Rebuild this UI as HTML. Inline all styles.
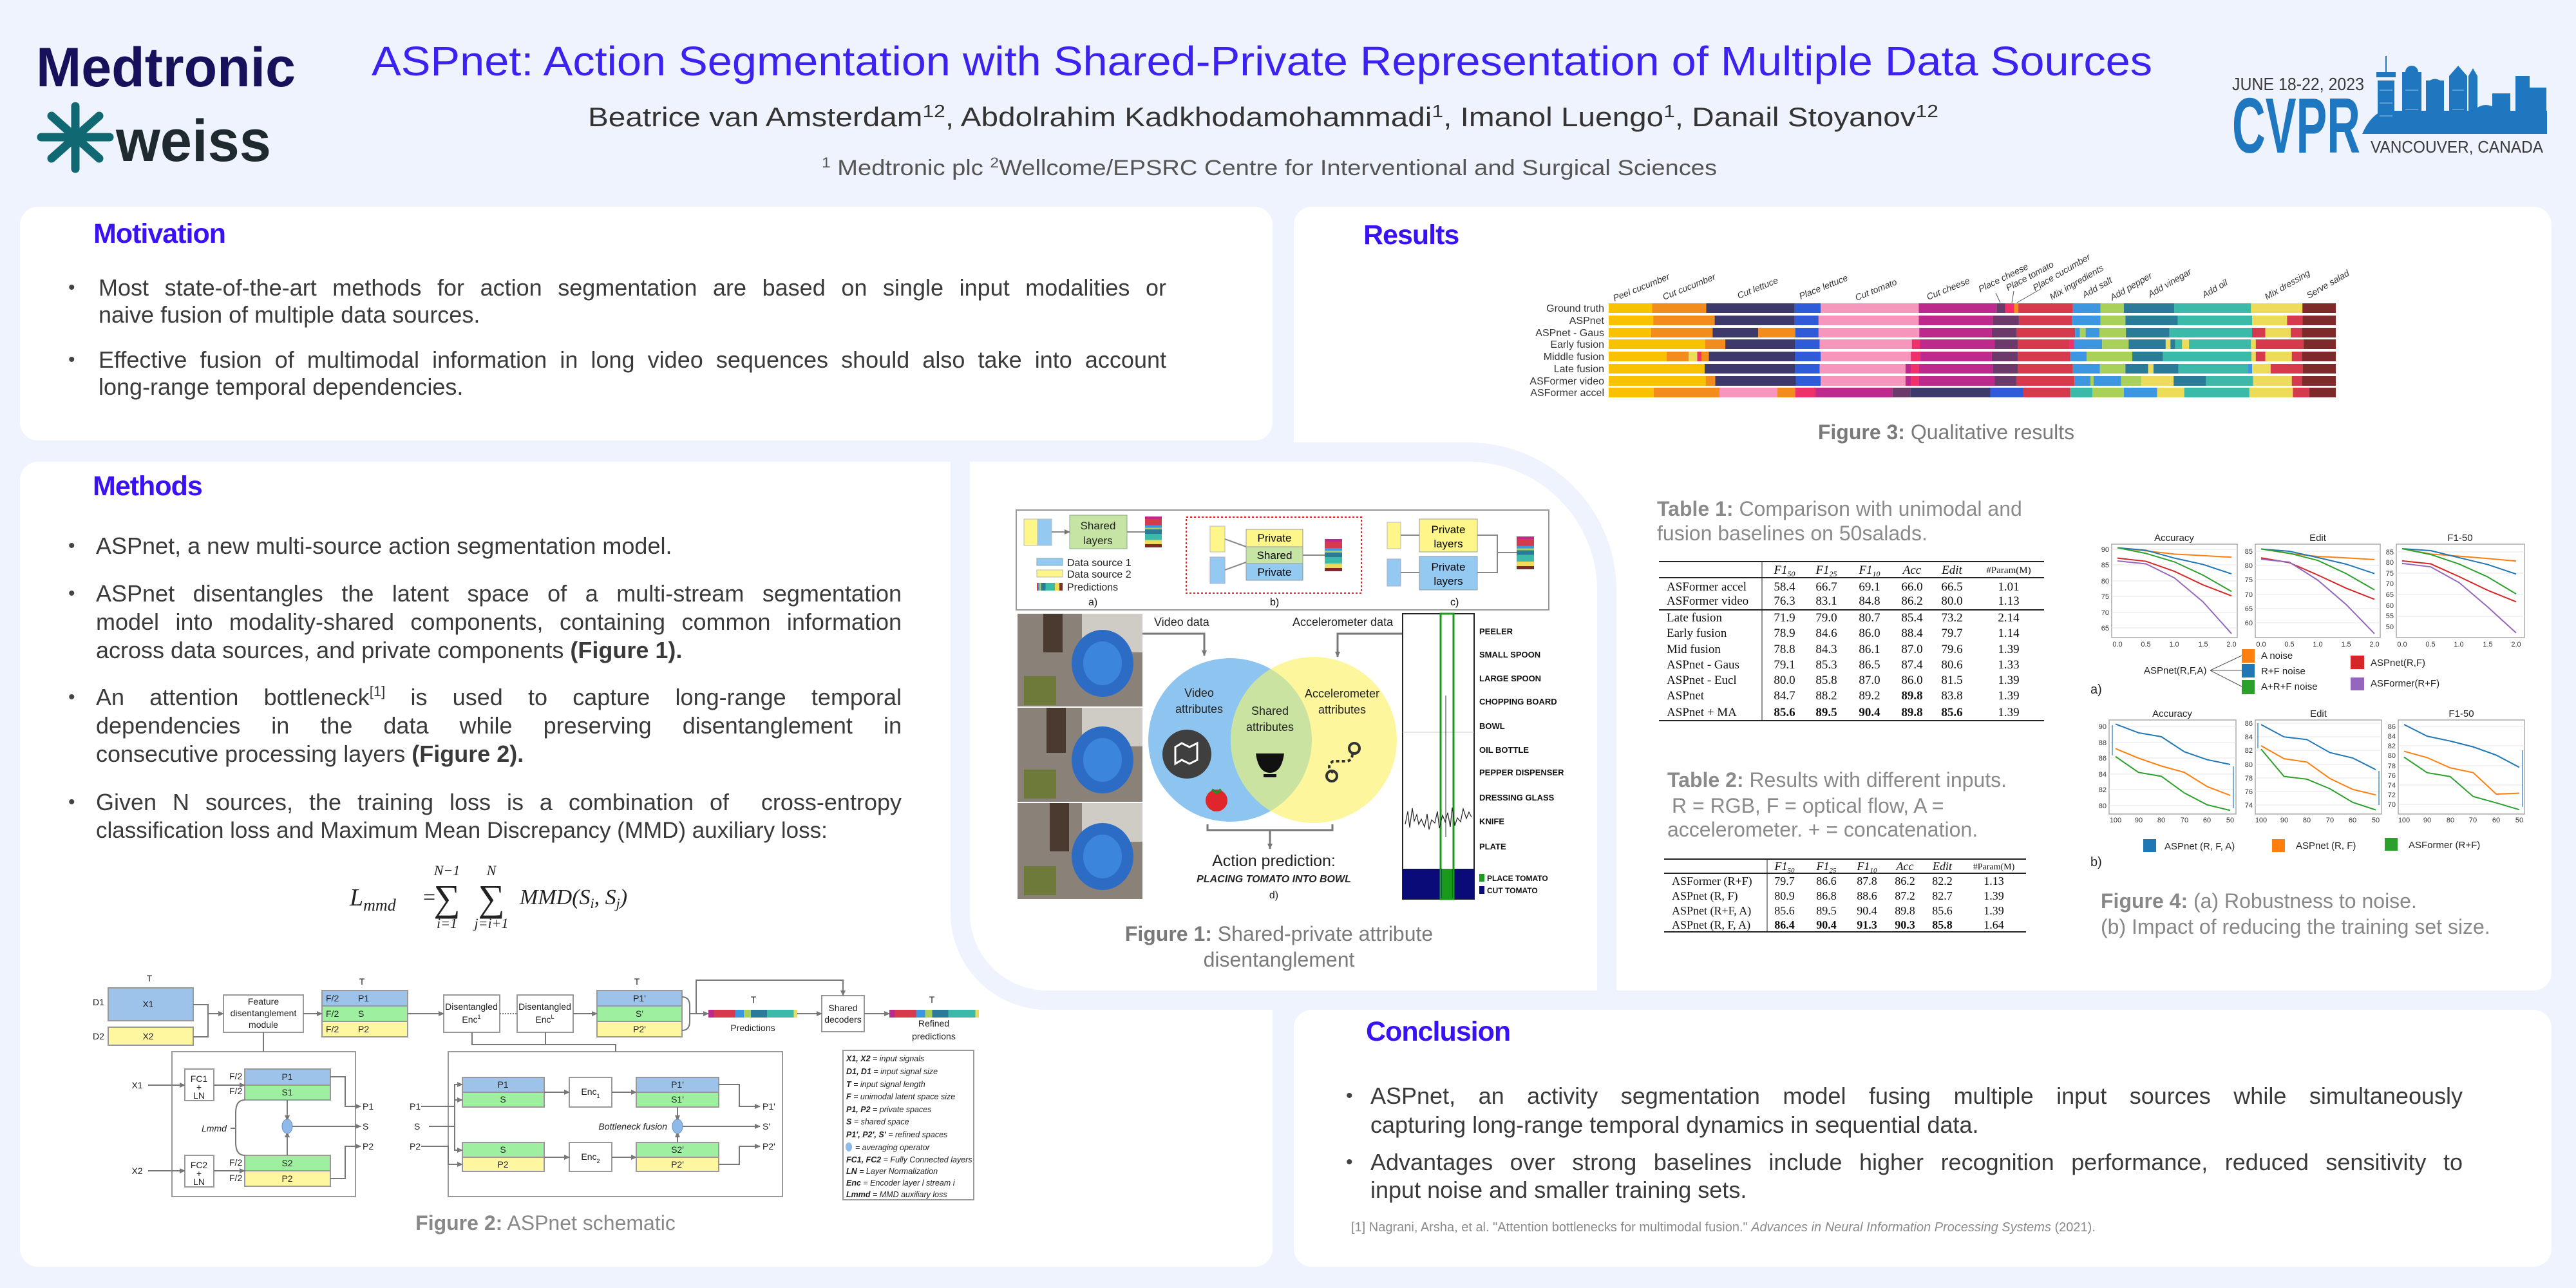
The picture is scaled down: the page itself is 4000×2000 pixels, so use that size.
<!DOCTYPE html>
<html><head><meta charset="utf-8">
<style>
*{margin:0;padding:0;box-sizing:border-box}
body{width:4000px;height:2000px;background:#eef3fd;position:relative;overflow:hidden;font-family:"Liberation Sans",sans-serif;color:#3a3a3a}
.panel{position:absolute;background:#fff;border-radius:28px}
.h{position:absolute;font-weight:bold;font-size:43px;color:#3a10f5;letter-spacing:-1px}
.ln{position:absolute;font-size:36px;line-height:44px;height:44px;white-space:nowrap;color:#3a3a3a}
.j{text-align:justify;text-align-last:justify;white-space:normal}
.bul{position:absolute;font-size:30px;line-height:44px;color:#444}
.fig3row{display:flex;height:15px;margin-bottom:3.75px}
.fig3row i{display:block;height:15px}
.Y{background:#f8c200}.O{background:#f28c1c}.N{background:#3d3a6b}.B{background:#2f5bd8}.P{background:#f796bd}.M{background:#bd2a8c}.V{background:#6b3a6a}.R{background:#d63a4d}.L{background:#3d96e0}.G{background:#a9d15a}.T{background:#2a7b98}.C{background:#3bb9a9}.E{background:#ecdc5a}.D{background:#7f2a2a}.K{background:#f0306b}
svg text{font-family:"Liberation Sans",sans-serif}
sup{font-size:22px;line-height:0;vertical-align:0;position:relative;top:-14px}
</style></head><body>

<div class="panel" style="left:31px;top:321px;width:1945px;height:363px"></div>
<div class="panel" style="left:2009px;top:321px;width:1953px;height:1217px"></div>
<div class="panel" style="left:31px;top:717px;width:1945px;height:1250px"></div>
<div class="panel" style="left:2009px;top:1568px;width:1953px;height:399px"></div>
<div style="position:absolute;left:1476px;top:687px;width:1034px;height:881px;background:#fff;border:30px solid #eef3fd;border-radius:0 230px 0 150px"></div>

<div class="h" style="left:145px;top:339px">Motivation</div>
<div class="h" style="left:2117px;top:341px">Results</div>
<div class="h" style="left:144px;top:731px">Methods</div>
<div class="h" style="left:2121px;top:1578px">Conclusion</div>

<div class="bul" style="left:106px;top:425px">•</div>
<div class="ln j" style="left:153px;top:425px;width:1658px">Most state-of-the-art methods for action segmentation are based on single input modalities or</div>
<div class="ln" style="left:153px;top:467px">naive fusion of multiple data sources.</div>
<div class="bul" style="left:106px;top:537px">•</div>
<div class="ln j" style="left:153px;top:537px;width:1658px">Effective fusion of multimodal information in long video sequences should also take into account</div>
<div class="ln" style="left:153px;top:579px">long-range temporal dependencies.</div>

<div class="bul" style="left:106px;top:826px">•</div>
<div class="ln" style="left:149px;top:826px">ASPnet, a new multi-source action segmentation model.</div>
<div class="bul" style="left:106px;top:900px">•</div>
<div class="ln j" style="left:149px;top:900px;width:1251px">ASPnet disentangles the latent space of a multi-stream segmentation</div>
<div class="ln j" style="left:149px;top:944px;width:1251px">model into modality-shared components, containing common information</div>
<div class="ln" style="left:149px;top:988px">across data sources, and private components <b>(Figure 1).</b></div>
<div class="bul" style="left:106px;top:1061px">•</div>
<div class="ln j" style="left:149px;top:1061px;width:1251px">An attention bottleneck<sup>[1]</sup> is used to capture long-range temporal</div>
<div class="ln j" style="left:149px;top:1105px;width:1251px">dependencies in the data while preserving disentanglement in</div>
<div class="ln" style="left:149px;top:1149px">consecutive processing layers <b>(Figure 2).</b></div>
<div class="bul" style="left:106px;top:1224px">•</div>
<div class="ln j" style="left:149px;top:1224px;width:1251px">Given N sources, the training loss is a combination of &nbsp;cross-entropy</div>
<div class="ln" style="left:149px;top:1268px;font-size:35px">classification loss and Maximum Mean Discrepancy (MMD) auxiliary loss:</div>

<div class="bul" style="left:2090px;top:1680px">•</div>
<div class="ln j" style="left:2128px;top:1680px;width:1696px">ASPnet, an activity segmentation model fusing multiple input sources while simultaneously</div>
<div class="ln" style="left:2128px;top:1725px">capturing long-range temporal dynamics in sequential data.</div>
<div class="bul" style="left:2090px;top:1783px">•</div>
<div class="ln j" style="left:2128px;top:1783px;width:1696px">Advantages over strong baselines include higher recognition performance, reduced sensitivity to</div>
<div class="ln" style="left:2128px;top:1826px">input noise and smaller training sets.</div>
<div style="position:absolute;left:2098px;top:1895px;font-size:20px;color:#8a8a8a;white-space:nowrap">[1] Nagrani, Arsha, et al. "Attention bottlenecks for multimodal fusion." <i>Advances in Neural Information Processing Systems</i> (2021).</div>

<div style="position:absolute;left:2498px;top:471px;width:1372px;transform:scaleX(0.8229);transform-origin:0 0">
<div class="fig3row"><i class="Y" style="flex:82"></i><i class="O" style="flex:102"></i><i class="N" style="flex:167"></i><i class="B" style="flex:49"></i><i class="P" style="flex:185"></i><i class="M" style="flex:147"></i><i class="V" style="flex:16"></i><i class="K" style="flex:17"></i><i class="O" style="flex:8"></i><i class="R" style="flex:103"></i><i class="L" style="flex:52"></i><i class="G" style="flex:44"></i><i class="T" style="flex:95"></i><i class="C" style="flex:145"></i><i class="E" style="flex:97"></i><i class="D" style="flex:63"></i></div>
<div class="fig3row"><i class="Y" style="flex:84"></i><i class="O" style="flex:116"></i><i class="N" style="flex:151"></i><i class="B" style="flex:45"></i><i class="P" style="flex:189"></i><i class="M" style="flex:140"></i><i class="V" style="flex:49"></i><i class="R" style="flex:100"></i><i class="L" style="flex:54"></i><i class="G" style="flex:47"></i><i class="T" style="flex:99"></i><i class="C" style="flex:140"></i><i class="E" style="flex:66"></i><i class="R" style="flex:29"></i><i class="D" style="flex:63"></i></div>
<div class="fig3row"><i class="Y" style="flex:80"></i><i class="O" style="flex:116"></i><i class="N" style="flex:86"></i><i class="O" style="flex:70"></i><i class="B" style="flex:44"></i><i class="P" style="flex:190"></i><i class="M" style="flex:137"></i><i class="V" style="flex:47"></i><i class="R" style="flex:110"></i><i class="L" style="flex:9"></i><i class="G" style="flex:11"></i><i class="L" style="flex:26"></i><i class="G" style="flex:50"></i><i class="T" style="flex:82"></i><i class="C" style="flex:156"></i><i class="R" style="flex:25"></i><i class="E" style="flex:48"></i><i class="R" style="flex:21"></i><i class="D" style="flex:64"></i></div>
<div class="fig3row"><i class="Y" style="flex:182"></i><i class="O" style="flex:38"></i><i class="N" style="flex:132"></i><i class="B" style="flex:46"></i><i class="P" style="flex:174"></i><i class="K" style="flex:15"></i><i class="M" style="flex:141"></i><i class="V" style="flex:44"></i><i class="R" style="flex:98"></i><i class="K" style="flex:8"></i><i class="L" style="flex:53"></i><i class="G" style="flex:50"></i><i class="T" style="flex:70"></i><i class="E" style="flex:9"></i><i class="T" style="flex:9"></i><i class="C" style="flex:13"></i><i class="E" style="flex:13"></i><i class="C" style="flex:117"></i><i class="E" style="flex:9"></i><i class="R" style="flex:90"></i><i class="D" style="flex:61"></i></div>
<div class="fig3row"><i class="Y" style="flex:109"></i><i class="O" style="flex:42"></i><i class="E" style="flex:16"></i><i class="K" style="flex:8"></i><i class="O" style="flex:14"></i><i class="N" style="flex:163"></i><i class="B" style="flex:48"></i><i class="P" style="flex:170"></i><i class="K" style="flex:18"></i><i class="M" style="flex:135"></i><i class="V" style="flex:49"></i><i class="R" style="flex:99"></i><i class="L" style="flex:31"></i><i class="G" style="flex:86"></i><i class="T" style="flex:58"></i><i class="C" style="flex:167"></i><i class="E" style="flex:8"></i><i class="R" style="flex:18"></i><i class="E" style="flex:50"></i><i class="R" style="flex:19"></i><i class="D" style="flex:64"></i></div>
<div class="fig3row"><i class="Y" style="flex:181"></i><i class="N" style="flex:171"></i><i class="B" style="flex:46"></i><i class="P" style="flex:162"></i><i class="M" style="flex:10"></i><i class="K" style="flex:15"></i><i class="M" style="flex:140"></i><i class="V" style="flex:47"></i><i class="R" style="flex:104"></i><i class="L" style="flex:51"></i><i class="G" style="flex:48"></i><i class="T" style="flex:43"></i><i class="E" style="flex:10"></i><i class="T" style="flex:47"></i><i class="C" style="flex:131"></i><i class="L" style="flex:8"></i><i class="E" style="flex:35"></i><i class="R" style="flex:61"></i><i class="D" style="flex:62"></i></div>
<div class="fig3row"><i class="Y" style="flex:183"></i><i class="O" style="flex:18"></i><i class="N" style="flex:152"></i><i class="B" style="flex:47"></i><i class="P" style="flex:160"></i><i class="M" style="flex:10"></i><i class="K" style="flex:15"></i><i class="M" style="flex:143"></i><i class="V" style="flex:42"></i><i class="R" style="flex:109"></i><i class="L" style="flex:30"></i><i class="G" style="flex:6"></i><i class="L" style="flex:52"></i><i class="G" style="flex:38"></i><i class="E" style="flex:61"></i><i class="T" style="flex:61"></i><i class="C" style="flex:89"></i><i class="E" style="flex:73"></i><i class="R" style="flex:19"></i><i class="D" style="flex:64"></i></div>
<div class="fig3row"><i class="Y" style="flex:85"></i><i class="O" style="flex:124"></i><i class="P" style="flex:109"></i><i class="O" style="flex:34"></i><i class="K" style="flex:38"></i><i class="M" style="flex:145"></i><i class="V" style="flex:34"></i><i class="N" style="flex:151"></i><i class="B" style="flex:62"></i><i class="R" style="flex:89"></i><i class="C" style="flex:42"></i><i class="G" style="flex:59"></i><i class="L" style="flex:63"></i><i class="E" style="flex:51"></i><i class="C" style="flex:123"></i><i class="E" style="flex:82"></i><i class="R" style="flex:31"></i><i class="D" style="flex:50"></i></div>
</div>

<svg width="4000" height="2000" viewBox="0 0 4000 2000" style="position:absolute;left:0;top:0">
<defs>
<marker id="ar" markerWidth="10" markerHeight="10" refX="8" refY="5" orient="auto" markerUnits="userSpaceOnUse"><path d="M0,1 L9,5 L0,9 z" fill="#777"/></marker>
<linearGradient id="pv" x1="0" y1="0" x2="0" y2="1">
<stop offset="0" stop-color="#bd2a8c"/><stop offset=".08" stop-color="#bd2a8c"/><stop offset=".08" stop-color="#d63a4d"/><stop offset=".28" stop-color="#d63a4d"/><stop offset=".28" stop-color="#3d96e0"/><stop offset=".36" stop-color="#3d96e0"/><stop offset=".36" stop-color="#a9d15a"/><stop offset=".42" stop-color="#a9d15a"/><stop offset=".42" stop-color="#2a7b98"/><stop offset=".56" stop-color="#2a7b98"/><stop offset=".56" stop-color="#3bb9a9"/><stop offset=".76" stop-color="#3bb9a9"/><stop offset=".76" stop-color="#ecdc5a"/><stop offset=".9" stop-color="#ecdc5a"/><stop offset=".9" stop-color="#7f2a2a"/><stop offset="1" stop-color="#7f2a2a"/></linearGradient>
<linearGradient id="ph" x1="0" y1="0" x2="1" y2="0">
<stop offset="0" stop-color="#d63a4d"/><stop offset=".05" stop-color="#d63a4d"/><stop offset=".05" stop-color="#3d96e0"/><stop offset=".1" stop-color="#3d96e0"/><stop offset=".1" stop-color="#a9d15a"/><stop offset=".16" stop-color="#a9d15a"/><stop offset=".16" stop-color="#2a7b98"/><stop offset=".34" stop-color="#2a7b98"/><stop offset=".34" stop-color="#3bb9a9"/><stop offset=".7" stop-color="#3bb9a9"/><stop offset=".7" stop-color="#ecdc5a"/><stop offset=".88" stop-color="#ecdc5a"/><stop offset=".88" stop-color="#7f2a2a"/><stop offset="1" stop-color="#7f2a2a"/></linearGradient>
<linearGradient id="ph2" x1="0" y1="0" x2="1" y2="0">
<stop offset="0" stop-color="#bd2a8c"/><stop offset=".06" stop-color="#bd2a8c"/><stop offset=".06" stop-color="#d63a4d"/><stop offset=".3" stop-color="#d63a4d"/><stop offset=".3" stop-color="#3d96e0"/><stop offset=".4" stop-color="#3d96e0"/><stop offset=".4" stop-color="#a9d15a"/><stop offset=".48" stop-color="#a9d15a"/><stop offset=".48" stop-color="#2a7b98"/><stop offset=".66" stop-color="#2a7b98"/><stop offset=".66" stop-color="#3bb9a9"/><stop offset=".96" stop-color="#3bb9a9"/><stop offset=".96" stop-color="#ecdc5a"/><stop offset="1" stop-color="#ecdc5a"/></linearGradient>
<clipPath id="cb"><circle cx="1910" cy="1149" r="127"/></clipPath>
</defs>

<text x="56" y="134" font-size="86" font-weight="bold" fill="#17105a" textLength="403" lengthAdjust="spacingAndGlyphs">Medtronic</text>
<g stroke="#0f6872" stroke-width="13" stroke-linecap="round">
<line x1="117" y1="165" x2="117" y2="262"/><line x1="64" y1="213" x2="170" y2="213"/><line x1="80" y1="180" x2="154" y2="246"/><line x1="80" y1="246" x2="154" y2="180"/></g>
<circle cx="117" cy="213" r="16" fill="#0f6872"/>
<text x="180" y="250" font-size="92" font-weight="bold" fill="#1f2a2e" textLength="241" lengthAdjust="spacingAndGlyphs">weiss</text>
<text x="577" y="117" font-size="64" fill="#3b22f0" textLength="2765" lengthAdjust="spacingAndGlyphs">ASPnet: Action Segmentation with Shared-Private Representation of Multiple Data Sources</text>
<text x="913" y="196" font-size="42" fill="#333" textLength="2097" lengthAdjust="spacingAndGlyphs">Beatrice van Amsterdam<tspan font-size="28" dy="-14">12</tspan><tspan dy="14">, Abdolrahim Kadkhodamohammadi</tspan><tspan font-size="28" dy="-14">1</tspan><tspan dy="14">, Imanol Luengo</tspan><tspan font-size="28" dy="-14">1</tspan><tspan dy="14">, Danail Stoyanov</tspan><tspan font-size="28" dy="-14">12</tspan></text>
<text x="1276" y="272" font-size="34" fill="#555" textLength="1390" lengthAdjust="spacingAndGlyphs"><tspan font-size="22" dy="-12">1</tspan><tspan dy="12"> Medtronic plc  </tspan><tspan font-size="22" dy="-12">2</tspan><tspan dy="12">Wellcome/EPSRC Centre for Interventional and Surgical Sciences</tspan></text>
<text x="3466" y="140" font-size="28" fill="#3a3a3a" textLength="205" lengthAdjust="spacingAndGlyphs">JUNE 18-22, 2023</text>
<text x="3466" y="237" font-size="122" font-weight="bold" fill="#1f77c0" textLength="199" lengthAdjust="spacingAndGlyphs">CVPR</text>
<text x="3681" y="237" font-size="26" fill="#3a3a3a" textLength="268" lengthAdjust="spacingAndGlyphs">VANCOUVER, CANADA</text>
<g fill="#1f77c0">
<path d="M3668,208 Q3680,180 3700,172 L3955,172 L3955,208 z"/>
<rect x="3692" y="125" width="26" height="83"/><rect x="3690" y="112" width="30" height="8"/><rect x="3704" y="87" width="2" height="25"/>
<rect x="3730" y="112" width="30" height="96"/><circle cx="3745" cy="112" r="10"/>
<rect x="3767" y="125" width="28" height="83"/><path d="M3767,130 Q3781,115 3795,130 z"/>
<rect x="3803" y="118" width="28" height="90"/><path d="M3803,118 L3817,102 L3831,118 z"/>
<rect x="3833" y="118" width="14" height="90"/><path d="M3833,118 L3840,106 L3847,118 z"/>
<rect x="3870" y="145" width="28" height="63"/><circle cx="3860" cy="185" r="22"/>
<rect x="3906" y="118" width="22" height="90"/><rect x="3926" y="136" width="28" height="72"/>
</g>
<g stroke="#cfe3f7" stroke-width="1" opacity=".7"><line x1="3695" y1="140" x2="3715" y2="140"/><line x1="3695" y1="160" x2="3715" y2="160"/><line x1="3695" y1="180" x2="3715" y2="180"/><line x1="3735" y1="140" x2="3755" y2="140"/><line x1="3735" y1="170" x2="3755" y2="170"/><line x1="3808" y1="140" x2="3826" y2="140"/><line x1="3808" y1="170" x2="3826" y2="170"/></g>

<g font-size="16" fill="#333" text-anchor="end">
<text x="2491" y="484">Ground truth</text><text x="2491" y="503">ASPnet</text><text x="2491" y="522">ASPnet - Gaus</text><text x="2491" y="540">Early fusion</text><text x="2491" y="559">Middle fusion</text><text x="2491" y="578">Late fusion</text><text x="2491" y="597">ASFormer video</text><text x="2491" y="615">ASFormer accel</text>
</g>
<g font-size="14" font-style="italic" fill="#333">
<text transform="translate(2507,468) rotate(-22)">Peel cucumber</text>
<text transform="translate(2584,466) rotate(-22)">Cut cucumber</text>
<text transform="translate(2700,464) rotate(-22)">Cut lettuce</text>
<text transform="translate(2796,465) rotate(-22)">Place lettuce</text>
<text transform="translate(2883,467) rotate(-22)">Cut tomato</text>
<text transform="translate(2994,466) rotate(-22)">Cut cheese</text>
<text transform="translate(3075,454) rotate(-26)">Place cheese</text>
<text transform="translate(3118,452) rotate(-28)">Place tomato</text>
<text transform="translate(3160,452) rotate(-30)">Place cucumber</text>
<text transform="translate(3186,466) rotate(-30)">Mix ingredients</text>
<text transform="translate(3237,463) rotate(-30)">Add salt</text>
<text transform="translate(3280,467) rotate(-30)">Add pepper</text>
<text transform="translate(3339,462) rotate(-30)">Add vinegar</text>
<text transform="translate(3423,463) rotate(-30)">Add oil</text>
<text transform="translate(3520,466) rotate(-30)">Mix dressing</text>
<text transform="translate(3585,464) rotate(-30)">Serve salad</text>
</g>
<g stroke="#555" stroke-width="1"><line x1="3099" y1="455" x2="3106" y2="470"/><line x1="3127" y1="452" x2="3124" y2="470"/><line x1="3170" y1="448" x2="3132" y2="470"/></g>
<text x="3022" y="682" font-size="32" fill="#7a7a7a" text-anchor="middle"><tspan font-weight="bold">Figure 3:</tspan> Qualitative results</text>

<rect x="1578" y="792" width="827" height="155" fill="#fff" stroke="#999" stroke-width="2"/>
<rect x="1590" y="806" width="21" height="41" fill="#fff68a" stroke="#bbb"/><rect x="1611" y="806" width="22" height="41" fill="#94c9f2" stroke="#bbb"/>
<rect x="1661" y="800" width="89" height="52" fill="#c6e5a4" stroke="#8a8"/>
<text x="1705" y="822" font-size="17" text-anchor="middle" fill="#222">Shared</text><text x="1705" y="845" font-size="17" text-anchor="middle" fill="#222">layers</text>
<line x1="1633" y1="826" x2="1661" y2="826" stroke="#888" stroke-width="2" marker-end="url(#ar)"/>
<line x1="1750" y1="826" x2="1778" y2="826" stroke="#888" stroke-width="2"/>
<rect x="1778" y="802" width="26" height="48" fill="url(#pv)"/>
<rect x="1610" y="867" width="40" height="11" fill="#94c9f2" stroke="#8ab"/><text x="1657" y="879" font-size="16" fill="#222">Data source 1</text>
<rect x="1610" y="885" width="40" height="11" fill="#fff68a" stroke="#bb9"/><text x="1657" y="897" font-size="16" fill="#222">Data source 2</text>
<rect x="1610" y="905" width="40" height="12" fill="url(#ph)"/><text x="1657" y="917" font-size="16" fill="#222">Predictions</text>
<text x="1690" y="940" font-size="16" fill="#222">a)</text>
<rect x="1842" y="803" width="272" height="118" fill="none" stroke="#d22" stroke-width="2" stroke-dasharray="3,3"/>
<rect x="1879" y="817" width="23" height="40" fill="#fff68a" stroke="#bbb"/><rect x="1879" y="865" width="23" height="41" fill="#94c9f2" stroke="#aac"/>
<rect x="1935" y="822" width="88" height="27" fill="#fff68a" stroke="#999"/><text x="1979" y="841" font-size="17" text-anchor="middle">Private</text>
<rect x="1935" y="849" width="88" height="26" fill="#c6e5a4" stroke="#999"/><text x="1979" y="868" font-size="17" text-anchor="middle">Shared</text>
<rect x="1935" y="875" width="88" height="26" fill="#94c9f2" stroke="#999"/><text x="1979" y="894" font-size="17" text-anchor="middle">Private</text>
<line x1="1902" y1="837" x2="1935" y2="849" stroke="#888" stroke-width="2"/><line x1="1902" y1="885" x2="1935" y2="873" stroke="#888" stroke-width="2"/>
<line x1="2023" y1="862" x2="2057" y2="862" stroke="#888" stroke-width="2"/>
<rect x="2057" y="837" width="27" height="50" fill="url(#pv)"/>
<text x="1972" y="940" font-size="16">b)</text>
<rect x="2154" y="811" width="21" height="41" fill="#fff68a" stroke="#bbb"/><rect x="2154" y="868" width="21" height="42" fill="#94c9f2" stroke="#aac"/>
<rect x="2204" y="806" width="90" height="51" fill="#fff68a" stroke="#999"/><text x="2249" y="828" font-size="17" text-anchor="middle">Private</text><text x="2249" y="850" font-size="17" text-anchor="middle">layers</text>
<rect x="2204" y="864" width="90" height="52" fill="#94c9f2" stroke="#999"/><text x="2249" y="886" font-size="17" text-anchor="middle">Private</text><text x="2249" y="908" font-size="17" text-anchor="middle">layers</text>
<g stroke="#888" stroke-width="2" fill="none"><line x1="2175" y1="831" x2="2204" y2="831"/><line x1="2175" y1="889" x2="2204" y2="889"/><polyline points="2294,831 2325,831 2325,889 2294,889"/><line x1="2325" y1="858" x2="2355" y2="858"/></g>
<rect x="2355" y="833" width="27" height="51" fill="url(#pv)"/>
<text x="2252" y="940" font-size="16">c)</text>

<g>
<rect x="1580" y="953" width="194" height="144" fill="#8a8278"/><rect x="1680" y="953" width="94" height="60" fill="#cfccc6"/><ellipse cx="1712" cy="1030" rx="48" ry="52" fill="#2d6cc4"/><ellipse cx="1712" cy="1030" rx="30" ry="34" fill="#3b86dc"/><rect x="1590" y="1050" width="50" height="45" fill="#6d7a3a"/><rect x="1620" y="953" width="30" height="60" fill="#4a3a30"/>
<rect x="1580" y="1099" width="194" height="146" fill="#8a8278"/><rect x="1680" y="1099" width="94" height="60" fill="#cfccc6"/><ellipse cx="1712" cy="1180" rx="48" ry="52" fill="#2d6cc4"/><ellipse cx="1712" cy="1180" rx="30" ry="34" fill="#3b86dc"/><rect x="1590" y="1195" width="50" height="45" fill="#6d7a3a"/><rect x="1625" y="1099" width="30" height="70" fill="#4a3a30"/>
<rect x="1580" y="1247" width="194" height="149" fill="#8a8278"/><rect x="1680" y="1247" width="94" height="60" fill="#cfccc6"/><ellipse cx="1712" cy="1330" rx="48" ry="52" fill="#2d6cc4"/><ellipse cx="1712" cy="1330" rx="30" ry="34" fill="#3b86dc"/><rect x="1590" y="1345" width="50" height="45" fill="#6d7a3a"/><rect x="1630" y="1247" width="30" height="75" fill="#4a3a30"/>
</g>
<text x="1792" y="972" font-size="18" fill="#222">Video data</text>
<text x="2007" y="972" font-size="18" fill="#222">Accelerometer data</text>
<polyline points="1774,984 1870,984 1870,1018" fill="none" stroke="#777" stroke-width="3" marker-end="url(#ar)"/>
<polyline points="2178,984 2077,984 2077,1020" fill="none" stroke="#777" stroke-width="3" marker-end="url(#ar)"/>
<circle cx="1910" cy="1149" r="127" fill="#8ec5f0"/>
<circle cx="2040" cy="1149" r="129" fill="#fdf69c"/>
<circle cx="2040" cy="1149" r="129" fill="#cbe3a0" clip-path="url(#cb)"/>
<text x="1862" y="1082" font-size="18" text-anchor="middle" fill="#222">Video</text><text x="1862" y="1107" font-size="18" text-anchor="middle" fill="#222">attributes</text>
<text x="1972" y="1110" font-size="18" text-anchor="middle" fill="#222">Shared</text><text x="1972" y="1135" font-size="18" text-anchor="middle" fill="#222">attributes</text>
<text x="2084" y="1083" font-size="18" text-anchor="middle" fill="#222">Accelerometer</text><text x="2084" y="1108" font-size="18" text-anchor="middle" fill="#222">attributes</text>
<circle cx="1843" cy="1171" r="38" fill="#3f3f3f"/><path d="M1825,1160 l10,-6 l12,6 l12,-6 v26 l-12,6 l-12,-6 l-10,6 z" fill="none" stroke="#fff" stroke-width="3"/>
<circle cx="1889" cy="1243" r="17" fill="#e0262a"/><path d="M1882,1226 l7,5 l7,-5" stroke="#2a8a2a" stroke-width="4" fill="none"/>
<path d="M1950,1170 h44 q-4,30 -22,30 q-18,0 -22,-30 z" fill="#111"/><rect x="1962" y="1202" width="20" height="5" fill="#111"/>
<path d="M2070,1200 q-12,-10 0,-18 h20 q10,0 10,-12" fill="none" stroke="#333" stroke-width="4" stroke-dasharray="5,4"/><circle cx="2068" cy="1205" r="8" fill="none" stroke="#333" stroke-width="4"/><circle cx="2103" cy="1162" r="8" fill="none" stroke="#333" stroke-width="4"/>
<polyline points="1875,1280 1875,1289 2069,1289 2069,1280" fill="none" stroke="#777" stroke-width="3"/>
<line x1="1972" y1="1289" x2="1972" y2="1318" stroke="#777" stroke-width="3" marker-end="url(#ar)"/>
<text x="1978" y="1345" font-size="25" text-anchor="middle" fill="#222">Action prediction:</text>
<text x="1978" y="1370" font-size="16" font-weight="bold" font-style="italic" text-anchor="middle" fill="#222">PLACING TOMATO INTO BOWL</text>
<text x="1978" y="1395" font-size="16" text-anchor="middle" fill="#222">d)</text>
<rect x="2178" y="953" width="111" height="443" fill="#fff" stroke="#222" stroke-width="2"/>
<line x1="2178" y1="1137" x2="2289" y2="1137" stroke="#ccc"/>
<rect x="2178" y="1349" width="111" height="47" fill="#0a0a78"/>
<rect x="2237" y="953" width="20" height="443" fill="none" stroke="#1a9a1a" stroke-width="3"/><rect x="2239" y="1349" width="16" height="47" fill="#1a9a1a"/>
<path d="M2182,1280 l4,-20 l3,25 l4,-30 l3,20 l4,-10 l3,15 l4,-8 l5,12 l4,-20 l3,24 l4,-15 l5,5 l4,-18 l3,26 l5,-20 l4,10 l4,-14 l4,22 l3,-30 l4,28 l4,-12 l5,6 l4,-20 l5,15 l4,-10 l4,8" fill="none" stroke="#222" stroke-width="1.2"/>
<line x1="2245" y1="1080" x2="2245" y2="1300" stroke="#333" stroke-width="1"/>
<g font-size="13" font-weight="bold" fill="#111">
<text x="2297" y="985">PEELER</text><text x="2297" y="1021">SMALL SPOON</text><text x="2297" y="1058">LARGE SPOON</text><text x="2297" y="1094">CHOPPING BOARD</text><text x="2297" y="1132">BOWL</text><text x="2297" y="1169">OIL BOTTLE</text><text x="2297" y="1204">PEPPER DISPENSER</text><text x="2297" y="1243">DRESSING GLASS</text><text x="2297" y="1280">KNIFE</text><text x="2297" y="1319">PLATE</text>
<rect x="2297" y="1357" width="8" height="12" fill="#1a9a1a"/><text x="2309" y="1368" font-size="12">PLACE TOMATO</text>
<rect x="2297" y="1376" width="8" height="12" fill="#0a0a78"/><text x="2309" y="1387" font-size="12">CUT TOMATO</text></g>
<text x="1986" y="1461" font-size="32" fill="#7a7a7a" text-anchor="middle"><tspan font-weight="bold">Figure 1:</tspan> Shared-private attribute</text>
<text x="1986" y="1501" font-size="32" fill="#7a7a7a" text-anchor="middle">disentanglement</text>

<text x="2573" y="801" font-size="32" fill="#8a8a8a"><tspan font-weight="bold">Table 1:</tspan> Comparison with unimodal and</text>
<text x="2573" y="839" font-size="32" fill="#8a8a8a">fusion baselines on 50salads.</text>
<g fill="#111">
<line x1="2576" y1="872" x2="3174" y2="872" stroke="#222" stroke-width="2"/>
<line x1="2576" y1="897" x2="3174" y2="897" stroke="#222" stroke-width="2"/>
<line x1="2576" y1="947" x2="3174" y2="947" stroke="#222" stroke-width="2"/>
<line x1="2576" y1="1119" x2="3174" y2="1119" stroke="#222" stroke-width="2"/>
<line x1="2736" y1="872" x2="2736" y2="1119" stroke="#222" stroke-width="1"/>
<g font-size="19" text-anchor="middle" style="font-family:'Liberation Serif',serif">
<text x="2771" y="891" font-style="italic" style="font-family:'Liberation Serif',serif">F1<tspan font-size="12" dy="4">50</tspan></text><text x="2836" y="891" font-style="italic" style="font-family:'Liberation Serif',serif">F1<tspan font-size="12" dy="4">25</tspan></text><text x="2903" y="891" font-style="italic" style="font-family:'Liberation Serif',serif">F1<tspan font-size="12" dy="4">10</tspan></text><text x="2969" y="891" font-style="italic" style="font-family:'Liberation Serif',serif">Acc</text><text x="3031" y="891" font-style="italic" style="font-family:'Liberation Serif',serif">Edit</text><text x="3119" y="890" font-size="15" style="font-family:'Liberation Serif',serif">#Param(M)</text>
</g>
<g font-size="19">
<text x="2588" y="917" style="font-family:'Liberation Serif',serif">ASFormer accel</text><text x="2588" y="939" style="font-family:'Liberation Serif',serif">ASFormer video</text><text x="2588" y="965" style="font-family:'Liberation Serif',serif">Late fusion</text><text x="2588" y="989" style="font-family:'Liberation Serif',serif">Early fusion</text><text x="2588" y="1014" style="font-family:'Liberation Serif',serif">Mid fusion</text><text x="2588" y="1038" style="font-family:'Liberation Serif',serif">ASPnet - Gaus</text><text x="2588" y="1062" style="font-family:'Liberation Serif',serif">ASPnet - Eucl</text><text x="2588" y="1086" style="font-family:'Liberation Serif',serif">ASPnet</text><text x="2588" y="1112" style="font-family:'Liberation Serif',serif">ASPnet + MA</text>
</g>
<g font-size="19" text-anchor="middle">
<text y="917" style="font-family:'Liberation Serif',serif"><tspan x="2771">58.4</tspan><tspan x="2836">66.7</tspan><tspan x="2903">69.1</tspan><tspan x="2969">66.0</tspan><tspan x="3031">66.5</tspan><tspan x="3119">1.01</tspan></text>
<text y="939" style="font-family:'Liberation Serif',serif"><tspan x="2771">76.3</tspan><tspan x="2836">83.1</tspan><tspan x="2903">84.8</tspan><tspan x="2969">86.2</tspan><tspan x="3031">80.0</tspan><tspan x="3119">1.13</tspan></text>
<text y="965" style="font-family:'Liberation Serif',serif"><tspan x="2771">71.9</tspan><tspan x="2836">79.0</tspan><tspan x="2903">80.7</tspan><tspan x="2969">85.4</tspan><tspan x="3031">73.2</tspan><tspan x="3119">2.14</tspan></text>
<text y="989" style="font-family:'Liberation Serif',serif"><tspan x="2771">78.9</tspan><tspan x="2836">84.6</tspan><tspan x="2903">86.0</tspan><tspan x="2969">88.4</tspan><tspan x="3031">79.7</tspan><tspan x="3119">1.14</tspan></text>
<text y="1014" style="font-family:'Liberation Serif',serif"><tspan x="2771">78.8</tspan><tspan x="2836">84.3</tspan><tspan x="2903">86.1</tspan><tspan x="2969">87.0</tspan><tspan x="3031">79.6</tspan><tspan x="3119">1.39</tspan></text>
<text y="1038" style="font-family:'Liberation Serif',serif"><tspan x="2771">79.1</tspan><tspan x="2836">85.3</tspan><tspan x="2903">86.5</tspan><tspan x="2969">87.4</tspan><tspan x="3031">80.6</tspan><tspan x="3119">1.33</tspan></text>
<text y="1062" style="font-family:'Liberation Serif',serif"><tspan x="2771">80.0</tspan><tspan x="2836">85.8</tspan><tspan x="2903">87.0</tspan><tspan x="2969">86.0</tspan><tspan x="3031">81.5</tspan><tspan x="3119">1.39</tspan></text>
<text y="1086" style="font-family:'Liberation Serif',serif"><tspan x="2771">84.7</tspan><tspan x="2836">88.2</tspan><tspan x="2903">89.2</tspan><tspan x="2969" font-weight="bold">89.8</tspan><tspan x="3031">83.8</tspan><tspan x="3119">1.39</tspan></text>
<text y="1112" font-weight="bold" style="font-family:'Liberation Serif',serif"><tspan x="2771">85.6</tspan><tspan x="2836">89.5</tspan><tspan x="2903">90.4</tspan><tspan x="2969">89.8</tspan><tspan x="3031">85.6</tspan><tspan x="3119" font-weight="normal">1.39</tspan></text>
</g>
<line x1="2584" y1="1334" x2="3146" y2="1334" stroke="#222" stroke-width="2"/>
<line x1="2584" y1="1356" x2="3146" y2="1356" stroke="#222" stroke-width="2"/>
<line x1="2584" y1="1447" x2="3146" y2="1447" stroke="#222" stroke-width="2"/>
<line x1="2744" y1="1334" x2="2744" y2="1447" stroke="#222" stroke-width="1"/>
<g font-size="18" text-anchor="middle">
<text x="2771" y="1351" font-style="italic" style="font-family:'Liberation Serif',serif">F1<tspan font-size="11" dy="4">50</tspan></text><text x="2836" y="1351" font-style="italic" style="font-family:'Liberation Serif',serif">F1<tspan font-size="11" dy="4">25</tspan></text><text x="2899" y="1351" font-style="italic" style="font-family:'Liberation Serif',serif">F1<tspan font-size="11" dy="4">10</tspan></text><text x="2958" y="1351" font-style="italic" style="font-family:'Liberation Serif',serif">Acc</text><text x="3016" y="1351" font-style="italic" style="font-family:'Liberation Serif',serif">Edit</text><text x="3096" y="1350" font-size="14" style="font-family:'Liberation Serif',serif">#Param(M)</text>
<text y="1374" style="font-family:'Liberation Serif',serif"><tspan x="2771">79.7</tspan><tspan x="2836">86.6</tspan><tspan x="2899">87.8</tspan><tspan x="2958">86.2</tspan><tspan x="3016">82.2</tspan><tspan x="3096">1.13</tspan></text>
<text y="1397" style="font-family:'Liberation Serif',serif"><tspan x="2771">80.9</tspan><tspan x="2836">86.8</tspan><tspan x="2899">88.6</tspan><tspan x="2958">87.2</tspan><tspan x="3016">82.7</tspan><tspan x="3096">1.39</tspan></text>
<text y="1420" style="font-family:'Liberation Serif',serif"><tspan x="2771">85.6</tspan><tspan x="2836">89.5</tspan><tspan x="2899">90.4</tspan><tspan x="2958">89.8</tspan><tspan x="3016">85.6</tspan><tspan x="3096">1.39</tspan></text>
<text y="1442" font-weight="bold" style="font-family:'Liberation Serif',serif"><tspan x="2771">86.4</tspan><tspan x="2836">90.4</tspan><tspan x="2899">91.3</tspan><tspan x="2958">90.3</tspan><tspan x="3016">85.8</tspan><tspan x="3096" font-weight="normal">1.64</tspan></text>
</g>
<g font-size="18">
<text x="2596" y="1374" style="font-family:'Liberation Serif',serif">ASFormer (R+F)</text><text x="2596" y="1397" style="font-family:'Liberation Serif',serif">ASPnet (R, F)</text><text x="2596" y="1420" style="font-family:'Liberation Serif',serif">ASPnet (R+F, A)</text><text x="2596" y="1442" style="font-family:'Liberation Serif',serif">ASPnet (R, F, A)</text>
</g>
</g>
<text x="2589" y="1222" font-size="32" fill="#8a8a8a"><tspan font-weight="bold">Table 2:</tspan> Results with different inputs.</text>
<text x="2596" y="1262" font-size="32" fill="#8a8a8a">R = RGB, F = optical flow, A =</text>
<text x="2589" y="1299" font-size="32" fill="#8a8a8a">accelerometer.  + = concatenation.</text>

<g font-size="15" fill="#222" text-anchor="middle">
<text x="3376" y="840">Accuracy</text><text x="3599" y="840">Edit</text><text x="3820" y="840">F1-50</text>
<text x="3373" y="1113">Accuracy</text><text x="3600" y="1113">Edit</text><text x="3822" y="1113">F1-50</text>
</g>
<g fill="#fff" stroke="#aaa" stroke-width="1.5">
<rect x="3279" y="845" width="195" height="145"/><rect x="3502" y="845" width="194" height="145"/><rect x="3721" y="845" width="199" height="145"/>
<rect x="3275" y="1118" width="197" height="146"/><rect x="3502" y="1118" width="196" height="146"/><rect x="3724" y="1118" width="196" height="146"/>
</g>
<g stroke="#e4e4e4" stroke-width="1">
<line x1="3279" y1="853" x2="3474" y2="853"/><line x1="3279" y1="877" x2="3474" y2="877"/><line x1="3279" y1="902" x2="3474" y2="902"/><line x1="3279" y1="926" x2="3474" y2="926"/><line x1="3279" y1="951" x2="3474" y2="951"/><line x1="3279" y1="975" x2="3474" y2="975"/>
<line x1="3502" y1="856" x2="3696" y2="856"/><line x1="3502" y1="878" x2="3696" y2="878"/><line x1="3502" y1="900" x2="3696" y2="900"/><line x1="3502" y1="923" x2="3696" y2="923"/><line x1="3502" y1="945" x2="3696" y2="945"/><line x1="3502" y1="967" x2="3696" y2="967"/>
<line x1="3721" y1="857" x2="3920" y2="857"/><line x1="3721" y1="890" x2="3920" y2="890"/><line x1="3721" y1="923" x2="3920" y2="923"/><line x1="3721" y1="957" x2="3920" y2="957"/>
<line x1="3275" y1="1128" x2="3472" y2="1128"/><line x1="3275" y1="1153" x2="3472" y2="1153"/><line x1="3275" y1="1177" x2="3472" y2="1177"/><line x1="3275" y1="1202" x2="3472" y2="1202"/><line x1="3275" y1="1226" x2="3472" y2="1226"/><line x1="3275" y1="1251" x2="3472" y2="1251"/>
<line x1="3502" y1="1123" x2="3698" y2="1123"/><line x1="3502" y1="1144" x2="3698" y2="1144"/><line x1="3502" y1="1165" x2="3698" y2="1165"/><line x1="3502" y1="1187" x2="3698" y2="1187"/><line x1="3502" y1="1208" x2="3698" y2="1208"/><line x1="3502" y1="1229" x2="3698" y2="1229"/><line x1="3502" y1="1250" x2="3698" y2="1250"/>
<line x1="3724" y1="1128" x2="3920" y2="1128"/><line x1="3724" y1="1158" x2="3920" y2="1158"/><line x1="3724" y1="1189" x2="3920" y2="1189"/><line x1="3724" y1="1219" x2="3920" y2="1219"/><line x1="3724" y1="1249" x2="3920" y2="1249"/>
</g>
<g font-size="11" fill="#333" text-anchor="end">
<text x="3275" y="857">90</text><text x="3275" y="881">85</text><text x="3275" y="906">80</text><text x="3275" y="930">75</text><text x="3275" y="955">70</text><text x="3275" y="979">65</text>
<text x="3498" y="860">85</text><text x="3498" y="882">80</text><text x="3498" y="904">75</text><text x="3498" y="927">70</text><text x="3498" y="949">65</text><text x="3498" y="971">60</text>
<text x="3717" y="861">85</text><text x="3717" y="877">80</text><text x="3717" y="894">75</text><text x="3717" y="910">70</text><text x="3717" y="927">65</text><text x="3717" y="944">60</text><text x="3717" y="960">55</text><text x="3717" y="977">50</text>
<text x="3271" y="1132">90</text><text x="3271" y="1157">88</text><text x="3271" y="1181">86</text><text x="3271" y="1206">84</text><text x="3271" y="1230">82</text><text x="3271" y="1255">80</text>
<text x="3498" y="1127">86</text><text x="3498" y="1148">84</text><text x="3498" y="1169">82</text><text x="3498" y="1191">80</text><text x="3498" y="1212">78</text><text x="3498" y="1233">76</text><text x="3498" y="1254">74</text>
<text x="3720" y="1132">86</text><text x="3720" y="1147">84</text><text x="3720" y="1162">82</text><text x="3720" y="1177">80</text><text x="3720" y="1193">78</text><text x="3720" y="1208">76</text><text x="3720" y="1223">74</text><text x="3720" y="1238">72</text><text x="3720" y="1253">70</text>
</g>
<g font-size="11" fill="#333" text-anchor="middle">
<text y="1004"><tspan x="3288">0.0</tspan><tspan x="3332">0.5</tspan><tspan x="3376">1.0</tspan><tspan x="3421">1.5</tspan><tspan x="3465">2.0</tspan></text>
<text y="1004"><tspan x="3511">0.0</tspan><tspan x="3555">0.5</tspan><tspan x="3599">1.0</tspan><tspan x="3643">1.5</tspan><tspan x="3687">2.0</tspan></text>
<text y="1004"><tspan x="3730">0.0</tspan><tspan x="3774">0.5</tspan><tspan x="3818">1.0</tspan><tspan x="3863">1.5</tspan><tspan x="3907">2.0</tspan></text>
<text y="1277"><tspan x="3285">100</tspan><tspan x="3321">90</tspan><tspan x="3356">80</tspan><tspan x="3392">70</tspan><tspan x="3427">60</tspan><tspan x="3463">50</tspan></text>
<text y="1277"><tspan x="3511">100</tspan><tspan x="3547">90</tspan><tspan x="3582">80</tspan><tspan x="3618">70</tspan><tspan x="3653">60</tspan><tspan x="3689">50</tspan></text>
<text y="1277"><tspan x="3733">100</tspan><tspan x="3769">90</tspan><tspan x="3805">80</tspan><tspan x="3840">70</tspan><tspan x="3876">60</tspan><tspan x="3912">50</tspan></text>
</g>
<g fill="none" stroke-width="2">
<g transform="translate(3288,853) scale(88.5,-4.88) translate(0,-90)">
<polyline vector-effect="non-scaling-stroke" stroke="#ff7f0e" points="0,90.5 .5,89.5 1,88.5 1.5,88 2,87.5"/>
<polyline vector-effect="non-scaling-stroke" stroke="#1f77b4" points="0,90.5 .5,89.7 1,87.2 1.5,85.2 2,82.2"/>
<polyline vector-effect="non-scaling-stroke" stroke="#2ca02c" points="0,90.5 .5,88.7 1,86 1.5,81.8 2,76.6"/>
<polyline vector-effect="non-scaling-stroke" stroke="#d62728" points="0,87.2 .5,86.2 1,83 1.5,78.7 2,75.2"/>
<polyline vector-effect="non-scaling-stroke" stroke="#9467bd" points="0,86.3 .5,85.4 1,80.9 1.5,73.3 2,63.2"/>
</g>
<g transform="translate(3511,856) scale(88,-4.44) translate(0,-85)">
<polyline vector-effect="non-scaling-stroke" stroke="#ff7f0e" points="0,85.8 .5,84.2 1,83.2 1.5,82.7 2,82.1"/>
<polyline vector-effect="non-scaling-stroke" stroke="#1f77b4" points="0,85.8 .5,85 1,82.8 1.5,80.5 2,77.2"/>
<polyline vector-effect="non-scaling-stroke" stroke="#2ca02c" points="0,85.8 .5,84.3 1,81.8 1.5,77.2 2,71.5"/>
<polyline vector-effect="non-scaling-stroke" stroke="#d62728" points="0,82.7 .5,81 1,76.7 1.5,72.1 2,68.2"/>
<polyline vector-effect="non-scaling-stroke" stroke="#9467bd" points="0,82.2 .5,81.2 1,74.9 1.5,66.4 2,56.2"/>
</g>
<g transform="translate(3730,857) scale(88.5,-3.31) translate(0,-85)">
<polyline vector-effect="non-scaling-stroke" stroke="#ff7f0e" points="0,86.5 .5,84 1,83 1.5,81.9 2,80.7"/>
<polyline vector-effect="non-scaling-stroke" stroke="#1f77b4" points="0,86.5 .5,85.6 1,82.3 1.5,79.1 2,74.6"/>
<polyline vector-effect="non-scaling-stroke" stroke="#2ca02c" points="0,86.5 .5,83.8 1,79.3 1.5,73.3 2,65.3"/>
<polyline vector-effect="non-scaling-stroke" stroke="#d62728" points="0,80.8 .5,79.4 1,73.4 1.5,67 2,61.6"/>
<polyline vector-effect="non-scaling-stroke" stroke="#9467bd" points="0,79.6 .5,78 1,70.6 1.5,59.2 2,47"/>
</g>
<g transform="translate(3285,1128) scale(3.56,-12.3) translate(0,-90)">
<polyline vector-effect="non-scaling-stroke" stroke="#1f77b4" points="0,90.3 10,89.2 20,88.7 30,86.8 40,85.8 50,85.2"/>
<polyline vector-effect="non-scaling-stroke" stroke="#ff7f0e" points="0,87.2 10,86 20,85 30,84.2 40,82.4 50,81.3"/>
<polyline vector-effect="non-scaling-stroke" stroke="#2ca02c" points="0,86.2 10,84.2 20,83.7 30,81.6 40,80.1 50,79.4"/>
</g>
<g transform="translate(3511,1123) scale(3.56,-10.6) translate(0,-86)">
<polyline vector-effect="non-scaling-stroke" stroke="#1f77b4" points="0,85.8 10,84 20,83.6 30,81.7 40,80.9 50,79.2"/>
<polyline vector-effect="non-scaling-stroke" stroke="#ff7f0e" points="0,82.7 10,80.8 20,80.3 30,77.9 40,76.3 50,75.5"/>
<polyline vector-effect="non-scaling-stroke" stroke="#2ca02c" points="0,82.2 10,78.2 20,77.8 30,76.4 40,74.4 50,73.3"/>
</g>
<g transform="translate(3733,1128) scale(3.58,-7.56) translate(0,-86)">
<polyline vector-effect="non-scaling-stroke" stroke="#1f77b4" points="0,86.4 10,84 20,83 30,81.8 40,80.1 50,77.6"/>
<polyline vector-effect="non-scaling-stroke" stroke="#ff7f0e" points="0,80.9 10,79.6 20,77.5 30,76.5 40,72.1 50,72.3"/>
<polyline vector-effect="non-scaling-stroke" stroke="#2ca02c" points="0,79.7 10,76.5 20,75.7 30,71.6 40,70.3 50,68.9"/>
</g>
</g>
<g stroke="#1f77b4" stroke-width="1.2"><line x1="3280" y1="1126" x2="3280" y2="1173"/><line x1="3468" y1="1190" x2="3468" y2="1255"/><line x1="3506" y1="1123" x2="3506" y2="1162"/><line x1="3694" y1="1197" x2="3694" y2="1250"/><line x1="3917" y1="1165" x2="3917" y2="1253"/></g>
<text x="3329" y="1046" font-size="15" fill="#222">ASPnet(R,F,A)</text>
<g stroke="#555" stroke-width="1"><line x1="3432" y1="1041" x2="3481" y2="1018"/><line x1="3432" y1="1041" x2="3481" y2="1041"/><line x1="3432" y1="1041" x2="3481" y2="1066"/></g>
<rect x="3481" y="1008" width="20" height="21" fill="#ff7f0e"/><rect x="3481" y="1031" width="20" height="21" fill="#1f77b4"/><rect x="3481" y="1056" width="20" height="22" fill="#2ca02c"/>
<g font-size="15" fill="#222"><text x="3511" y="1023">A noise</text><text x="3511" y="1047">R+F noise</text><text x="3511" y="1071">A+R+F noise</text><text x="3681" y="1034">ASPnet(R,F)</text><text x="3681" y="1066">ASFormer(R+F)</text></g>
<rect x="3650" y="1018" width="21" height="21" fill="#d62728"/><rect x="3650" y="1052" width="21" height="20" fill="#9467bd"/>
<text x="3246" y="1077" font-size="20" fill="#222">a)</text>
<rect x="3328" y="1303" width="20" height="20" fill="#1f77b4"/><rect x="3528" y="1303" width="20" height="20" fill="#ff7f0e"/><rect x="3703" y="1301" width="20" height="20" fill="#2ca02c"/>
<g font-size="15" fill="#222"><text x="3361" y="1319">ASPnet (R, F, A)</text><text x="3565" y="1318">ASPnet (R, F)</text><text x="3740" y="1317">ASFormer (R+F)</text></g>
<text x="3246" y="1345" font-size="20" fill="#222">b)</text>
<text x="3262" y="1410" font-size="32" fill="#888"><tspan font-weight="bold">Figure 4:</tspan> (a) Robustness to noise.</text>
<text x="3262" y="1450" font-size="32" fill="#888">(b) Impact of reducing the training set size.</text>

<g fill="#222">
<text x="543" y="1406" font-size="38" font-style="italic" style="font-family:'Liberation Serif',serif">L<tspan font-size="26" dy="8">mmd</tspan></text>
<text x="657" y="1404" font-size="34" style="font-family:'Liberation Serif',serif">=</text>
<text x="694" y="1414" font-size="58" text-anchor="middle" style="font-family:'Liberation Serif',serif">∑</text>
<text x="763" y="1414" font-size="58" text-anchor="middle" style="font-family:'Liberation Serif',serif">∑</text>
<text x="694" y="1359" font-size="22" font-style="italic" text-anchor="middle" style="font-family:'Liberation Serif',serif">N−1</text>
<text x="763" y="1359" font-size="22" font-style="italic" text-anchor="middle" style="font-family:'Liberation Serif',serif">N</text>
<text x="694" y="1441" font-size="22" font-style="italic" text-anchor="middle" style="font-family:'Liberation Serif',serif">i=1</text>
<text x="763" y="1441" font-size="22" font-style="italic" text-anchor="middle" style="font-family:'Liberation Serif',serif">j=i+1</text>
<text x="807" y="1404" font-size="34" font-style="italic" style="font-family:'Liberation Serif',serif">MMD(S<tspan font-size="22" dy="6">i</tspan><tspan dy="-6">, S</tspan><tspan font-size="22" dy="6">j</tspan><tspan dy="-6">)</tspan></text>
</g>

<g font-size="14" fill="#222" text-anchor="middle">
<text x="232" y="1524">T</text><text x="562" y="1529">T</text><text x="989" y="1529">T</text><text x="1170" y="1557">T</text><text x="1447" y="1557">T</text>
<text x="153" y="1561">D1</text><text x="153" y="1614">D2</text>
</g>
<g stroke="#999" stroke-width="2">
<rect x="168" y="1534" width="132" height="51" fill="#9dc3eb"/>
<rect x="168" y="1595" width="132" height="28" fill="#fff6a0"/>
<rect x="347" y="1545" width="124" height="58" fill="#fff"/>
<rect x="500" y="1538" width="133" height="24" fill="#9dc3eb"/><rect x="500" y="1562" width="133" height="24" fill="#9ef0a0"/><rect x="500" y="1586" width="133" height="24" fill="#fff6a0"/>
<rect x="689" y="1545" width="87" height="58" fill="#fff"/><rect x="803" y="1545" width="87" height="58" fill="#fff"/>
<rect x="927" y="1538" width="132" height="24" fill="#9dc3eb"/><rect x="927" y="1562" width="132" height="24" fill="#9ef0a0"/><rect x="927" y="1586" width="132" height="24" fill="#fff6a0"/>
<rect x="1276" y="1546" width="66" height="56" fill="#fff"/>
<rect x="267" y="1633" width="285" height="225" fill="none"/>
<rect x="696" y="1633" width="519" height="225" fill="none"/>
<rect x="1309" y="1631" width="203" height="232" fill="none"/>
<rect x="287" y="1660" width="45" height="49" fill="#fff"/><rect x="287" y="1794" width="45" height="49" fill="#fff"/>
<rect x="380" y="1660" width="133" height="25" fill="#9dc3eb"/><rect x="380" y="1685" width="133" height="23" fill="#9ef0a0"/>
<rect x="380" y="1794" width="133" height="24" fill="#9ef0a0"/><rect x="380" y="1818" width="133" height="24" fill="#fff6a0"/>
<rect x="718" y="1673" width="127" height="23" fill="#9dc3eb"/><rect x="718" y="1696" width="127" height="23" fill="#9ef0a0"/>
<rect x="718" y="1774" width="127" height="23" fill="#9ef0a0"/><rect x="718" y="1797" width="127" height="22" fill="#fff6a0"/>
<rect x="884" y="1673" width="66" height="46" fill="#fff"/><rect x="884" y="1774" width="66" height="45" fill="#fff"/>
<rect x="988" y="1673" width="128" height="23" fill="#9dc3eb"/><rect x="988" y="1696" width="128" height="23" fill="#9ef0a0"/>
<rect x="988" y="1774" width="128" height="23" fill="#9ef0a0"/><rect x="988" y="1797" width="128" height="22" fill="#fff6a0"/>
</g>
<rect x="1100" y="1568" width="138" height="12" fill="url(#ph2)"/>
<rect x="1381" y="1568" width="139" height="12" fill="url(#ph2)"/>
<g fill="none" stroke="#777" stroke-width="2">
<polyline points="300,1560 323,1560 323,1610 300,1610"/>
<line x1="323" y1="1574" x2="347" y2="1574" marker-end="url(#ar)"/>
<line x1="471" y1="1574" x2="500" y2="1574" marker-end="url(#ar)"/>
<line x1="633" y1="1574" x2="689" y2="1574" marker-end="url(#ar)"/>
<line x1="776" y1="1574" x2="803" y2="1574" stroke-dasharray="2,2"/>
<line x1="890" y1="1574" x2="927" y2="1574" marker-end="url(#ar)"/>
<path d="M1059,1548 q12,0 12,14 v24 q0,14 -12,14"/>
<line x1="1071" y1="1574" x2="1100" y2="1574" marker-end="url(#ar)"/>
<polyline points="1081,1574 1081,1522 1309,1522 1309,1546" marker-end="url(#ar)"/>
<line x1="1238" y1="1574" x2="1276" y2="1574" marker-end="url(#ar)"/>
<line x1="1342" y1="1574" x2="1381" y2="1574" marker-end="url(#ar)"/>
<line x1="409" y1="1603" x2="409" y2="1633"/>
<polyline points="733,1603 733,1622 956,1622 956,1633"/><line x1="847" y1="1603" x2="847" y2="1622"/>
<line x1="230" y1="1685" x2="287" y2="1685" marker-end="url(#ar)"/>
<line x1="332" y1="1685" x2="380" y2="1685" marker-end="url(#ar)"/>
<line x1="230" y1="1818" x2="287" y2="1818" marker-end="url(#ar)"/>
<line x1="332" y1="1818" x2="380" y2="1818" marker-end="url(#ar)"/>
<polyline points="513,1672 536,1672 536,1718 560,1718" marker-end="url(#ar)"/>
<polyline points="513,1830 536,1830 536,1780 560,1780" marker-end="url(#ar)"/>
<line x1="446" y1="1708" x2="446" y2="1740" marker-end="url(#ar)"/>
<line x1="446" y1="1794" x2="446" y2="1758" marker-end="url(#ar)"/>
<line x1="454" y1="1749" x2="560" y2="1749" marker-end="url(#ar)"/>
<path d="M380,1708 q-14,0 -14,20 v46 q0,20 14,20"/><line x1="358" y1="1752" x2="366" y2="1752"/>
<polyline points="654,1718 706,1718 706,1684 718,1684" marker-end="url(#ar)"/>
<line x1="666" y1="1749" x2="706" y2="1749"/>
<polyline points="706,1749 706,1708 718,1708" marker-end="url(#ar)"/>
<polyline points="706,1749 706,1786 718,1786" marker-end="url(#ar)"/>
<polyline points="654,1780 696,1780 696,1808 718,1808" marker-end="url(#ar)"/>
<line x1="845" y1="1696" x2="884" y2="1696" marker-end="url(#ar)"/>
<line x1="950" y1="1696" x2="988" y2="1696" marker-end="url(#ar)"/>
<line x1="845" y1="1797" x2="884" y2="1797" marker-end="url(#ar)"/>
<line x1="950" y1="1797" x2="988" y2="1797" marker-end="url(#ar)"/>
<line x1="1052" y1="1719" x2="1052" y2="1740" marker-end="url(#ar)"/>
<line x1="1052" y1="1774" x2="1052" y2="1758" marker-end="url(#ar)"/>
<line x1="1060" y1="1749" x2="1180" y2="1749" marker-end="url(#ar)"/>
<polyline points="1116,1684 1148,1684 1148,1718 1180,1718" marker-end="url(#ar)"/>
<polyline points="1116,1808 1148,1808 1148,1780 1180,1780" marker-end="url(#ar)"/>
</g>
<ellipse cx="446" cy="1749" rx="8" ry="11" fill="#8fb9e8" stroke="#6a94c8"/>
<ellipse cx="1052" cy="1749" rx="8" ry="11" fill="#8fb9e8" stroke="#6a94c8"/>
<g font-size="14" fill="#222" text-anchor="middle">
<text x="230" y="1564">X1</text><text x="230" y="1614">X2</text>
<text x="409" y="1560">Feature</text><text x="409" y="1578">disentanglement</text><text x="409" y="1596">module</text>
<text x="732" y="1568">Disentangled</text><text x="732" y="1588">Enc<tspan font-size="9" dy="-6">1</tspan></text>
<text x="846" y="1568">Disentangled</text><text x="846" y="1588">Enc<tspan font-size="9" dy="-6">L</tspan></text>
<text x="1309" y="1570">Shared</text><text x="1309" y="1588">decoders</text>
<text x="1169" y="1601">Predictions</text>
<text x="1450" y="1594">Refined</text><text x="1450" y="1614">predictions</text>
<text x="993" y="1555">P1'</text><text x="993" y="1579">S'</text><text x="993" y="1603">P2'</text>
<text x="309" y="1680">FC1</text><text x="309" y="1693">+</text><text x="309" y="1706">LN</text>
<text x="309" y="1814">FC2</text><text x="309" y="1827">+</text><text x="309" y="1840">LN</text>
<text x="446" y="1677">P1</text><text x="446" y="1701">S1</text><text x="446" y="1811">S2</text><text x="446" y="1835">P2</text>
<text x="213" y="1690">X1</text><text x="213" y="1823">X2</text>
<text x="781" y="1689">P1</text><text x="781" y="1712">S</text><text x="781" y="1790">S</text><text x="781" y="1813">P2</text>
<text x="917" y="1700">Enc<tspan font-size="9" dy="5">1</tspan></text><text x="917" y="1801">Enc<tspan font-size="9" dy="5">2</tspan></text>
<text x="1052" y="1689">P1'</text><text x="1052" y="1712">S1'</text><text x="1052" y="1790">S2'</text><text x="1052" y="1813">P2'</text>
</g>
<g font-size="14" fill="#222">
<text x="506" y="1555">F/2</text><text x="556" y="1555">P1</text><text x="506" y="1579">F/2</text><text x="556" y="1579">S</text><text x="506" y="1603">F/2</text><text x="556" y="1603">P2</text>
<text x="356" y="1676">F/2</text><text x="356" y="1699">F/2</text><text x="356" y="1810">F/2</text><text x="356" y="1834">F/2</text>
<text x="563" y="1723">P1</text><text x="563" y="1754">S</text><text x="563" y="1785">P2</text>
<text x="636" y="1723">P1</text><text x="643" y="1754">S</text><text x="636" y="1785">P2</text>
<text x="1184" y="1723">P1'</text><text x="1184" y="1754">S'</text><text x="1184" y="1785">P2'</text>
<text x="313" y="1757" font-style="italic">Lmmd</text>
<text x="1036" y="1754" font-style="italic" text-anchor="end">Bottleneck fusion</text>
</g>
<g font-size="12.5" font-style="italic" fill="#222">
<text x="1314" y="1648"><tspan font-weight="bold">X1, X2</tspan> = input signals</text>
<text x="1314" y="1668"><tspan font-weight="bold">D1, D1</tspan> = input signal size</text>
<text x="1314" y="1688"><tspan font-weight="bold">T</tspan> = input signal length</text>
<text x="1314" y="1707"><tspan font-weight="bold">F</tspan> = unimodal latent space size</text>
<text x="1314" y="1727"><tspan font-weight="bold">P1, P2</tspan> = private spaces</text>
<text x="1314" y="1746"><tspan font-weight="bold">S</tspan> = shared space</text>
<text x="1314" y="1766"><tspan font-weight="bold">P1', P2', S'</tspan> = refined spaces</text>
<text x="1328" y="1786">= averaging operator</text>
<text x="1314" y="1805"><tspan font-weight="bold">FC1, FC2</tspan> = Fully Connected layers</text>
<text x="1314" y="1823"><tspan font-weight="bold">LN</tspan> = Layer Normalization</text>
<text x="1314" y="1841"><tspan font-weight="bold">Enc</tspan> = Encoder layer l stream i</text>
<text x="1314" y="1859"><tspan font-weight="bold">Lmmd</tspan> = MMD auxiliary loss</text>
</g>
<ellipse cx="1318" cy="1781" rx="5" ry="7" fill="#8fb9e8"/>
<text x="847" y="1910" font-size="32" fill="#888" text-anchor="middle"><tspan font-weight="bold">Figure 2:</tspan> ASPnet schematic</text>
</svg>
</body></html>
